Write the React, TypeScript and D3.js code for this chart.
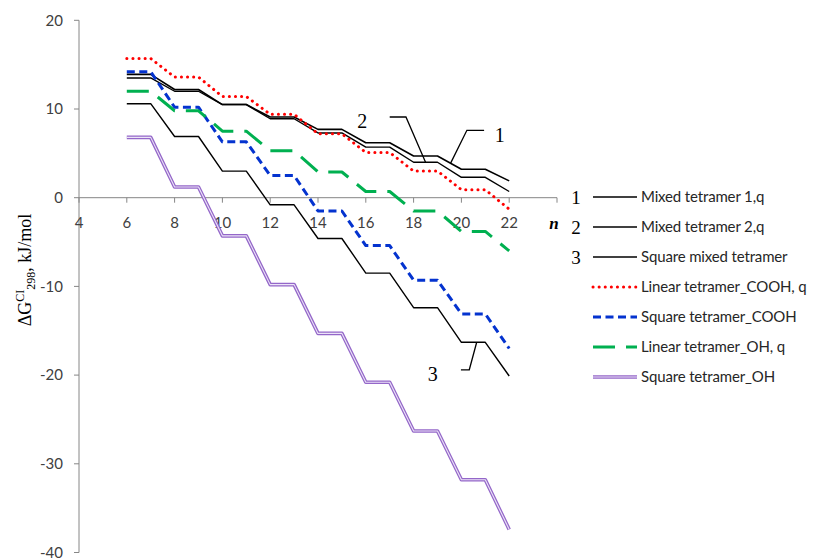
// @ts-nocheck
import * as d3 from 'd3';

// n values (cluster size) along the x axis
const nValues = [6, 7, 8, 9, 10, 11, 12, 13, 14, 15, 16, 17, 18, 19, 20, 21, 22];

// ΔG values, kJ/mol (one per n)
const mixed1 = [13.9, 13.9, 12.2, 12.2, 10.5, 10.5, 9.1, 9.1, 7.7, 7.7, 6.2, 6.2, 4.7, 4.7, 3.2, 3.2, 1.9];
const mixed2 = [13.5, 13.5, 12.0, 12.0, 10.5, 10.5, 8.9, 8.9, 7.3, 7.3, 5.7, 5.7, 4.0, 4.0, 2.3, 2.3, 0.7];
const squareMixed = [10.6, 10.6, 6.9, 6.9, 3.0, 3.0, -0.8, -0.8, -4.6, -4.6, -8.5, -8.5, -12.4, -12.4, -16.3, -16.3, -20.1];
const linearCOOH = [15.7, 15.7, 13.6, 13.6, 11.4, 11.4, 9.4, 9.4, 7.2, 7.2, 5.1, 5.1, 3.0, 3.0, 0.9, 0.9, -1.3];
const squareCOOH = [14.2, 14.2, 10.2, 10.2, 6.3, 6.3, 2.5, 2.5, -1.5, -1.5, -5.4, -5.4, -9.3, -9.3, -13.1, -13.1, -17.0];
const linearOH = [12.0, 12.0, 9.8, 9.8, 7.5, 7.5, 5.3, 5.3, 2.9, 2.9, 0.7, 0.7, -1.5, -1.5, -3.8, -3.8, -6.0];
const squareOH = [6.8, 6.8, 1.2, 1.2, -4.3, -4.3, -9.8, -9.8, -15.3, -15.3, -20.8, -20.8, -26.3, -26.3, -31.8, -31.8, -37.4];

const xTicks = [4, 6, 8, 10, 12, 14, 16, 18, 20, 22, 24];
const yTicks = [20, 10, 0, -10, -20, -30, -40];

const legendNames = [
  'Mixed tetramer 1,q',
  'Mixed tetramer 2,q',
  'Square mixed tetramer',
  'Linear tetramer_COOH, q',
  'Square tetramer_COOH',
  'Linear tetramer_OH, q',
  'Square tetramer_OH',
];
const legendNumbers = ['1', '2', '3'];

// leader lines for the "1", "2", "3" callouts, in data units [n, value]
const callouts = [
  { label: '1', text: [21.6, 7.1], path: [[20.95, 7.6], [20.23, 7.6], [19.55, 3.9]] },
  { label: '2', text: [15.85, 8.6], path: [[17.0, 9.1], [17.68, 9.1], [18.5, 4.0]] },
  { label: '3', text: [18.8, -19.9], path: [[19.98, -19.4], [20.33, -19.4], [20.64, -16.3]] },
];

const series = [
  { values: mixed1, stroke: '#000', width: 1.6 },
  { values: mixed2, stroke: '#000', width: 1.4 },
  { values: squareMixed, stroke: '#000', width: 1.4 },
  { values: linearCOOH, stroke: '#ff0000', width: 3, dash: '0.1 6', cap: 'round' },
  { values: squareCOOH, stroke: '#0433cf', width: 3, dash: '8 4.5' },
  { values: linearOH, stroke: '#00b050', width: 3, dash: '22 11' },
  { values: squareOH, stroke: '#9467c9', width: 3.6, double: true },
];

const sans = "Lato, 'Open Sans', sans-serif";
const serif = "'Liberation Serif', 'DejaVu Serif', serif";

export default function App() {
  const width = 813;
  const height = 560;

  const x = d3.scaleLinear([4, 24], [79, 557]);
  const y = d3.scaleLinear([-40, 20], [552.5, 20.3]);
  const axisColor = '#868686';

  const line = d3.line<number>((_, i) => x(nValues[i]), d => y(d));
  const leader = d3.line<number[]>(d => x(d[0]), d => y(d[1]));

  const legendX = 593;
  const legendY0 = 197;
  const legendStep = 30;

  const drawMark = (s, path, key) => (
    <g key={key}>
      <path d={path} fill="none" stroke={s.stroke} strokeWidth={s.width}
        strokeDasharray={s.dash} strokeLinecap={s.cap || 'butt'} strokeLinejoin="round" />
      {s.double && <path d={path} fill="none" stroke="#ece4f7" strokeWidth={1.1} strokeLinejoin="round" />}
    </g>
  );

  return (
    <div style={{ position: 'absolute', left: 0, top: 0 }}>
      <svg width={width} height={height} style={{ display: 'block', background: '#fff' }}>
        {/* y axis */}
        <line x1={x(4)} x2={x(4)} y1={y(20)} y2={y(-40)} stroke={axisColor} />
        {yTicks.map(t => (
          <g key={'y' + t}>
            <line x1={x(4) - 5} x2={x(4)} y1={y(t)} y2={y(t)} stroke={axisColor} />
            <text x={x(4) - 16} y={y(t)} dy="0.35em" textAnchor="end" fontFamily={sans}
              fontSize={15} fill="#404040">{t}</text>
          </g>
        ))}
        {/* x axis at zero */}
        <line x1={x(4)} x2={x(24)} y1={y(0)} y2={y(0)} stroke={axisColor} />
        {xTicks.map(t => (
          <g key={'x' + t}>
            <line x1={x(t)} x2={x(t)} y1={y(0)} y2={y(0) + 5} stroke={axisColor} />
            {t < 24 && (
              <text x={x(t)} y={y(0) + 30.5} textAnchor="middle" fontFamily={sans}
                fontSize={15} fill="#404040">{t}</text>
            )}
          </g>
        ))}
        <text x={x(24) - 3} y={y(0) + 31} textAnchor="middle" fontFamily={serif} fontSize={17}
          fontWeight="bold" fontStyle="italic">n</text>

        {/* y axis title */}
        <text transform="translate(31,270) rotate(-90)" textAnchor="middle" fontFamily={serif} fontSize={18}>
          ΔG<tspan dy={-7} fontSize={12}>CI</tspan><tspan dy={11} fontSize={12}>298</tspan>
          <tspan dy={-4}>, kJ/mol</tspan>
        </text>

        {/* series */}
        {series.map((s, i) => drawMark(s, line(s.values), 's' + i))}

        {/* callouts */}
        {callouts.map(c => (
          <g key={'c' + c.label}>
            <path d={leader(c.path)} fill="none" stroke="#000" strokeWidth={1.3} />
            <text x={x(c.text[0])} y={y(c.text[1])} dy="0.35em" textAnchor="middle"
              fontFamily={serif} fontSize={20}>{c.label}</text>
          </g>
        ))}

        {/* legend */}
        {series.map((s, i) => {
          const ly = legendY0 + i * legendStep;
          return (
            <g key={'l' + i}>
              {i < 3 && (
                <text x={576} y={ly} dy="0.35em" textAnchor="middle" fontFamily={serif}
                  fontSize={19}>{legendNumbers[i]}</text>
              )}
              {drawMark(s, `M${legendX},${ly}H${legendX + 44}`, 'lm' + i)}
              <text x={641} y={ly} dy="0.35em" fontFamily={sans} fontSize={15}
                letterSpacing={-0.15} fill="#262626">{legendNames[i]}</text>
            </g>
          );
        })}
      </svg>
    </div>
  );
}
